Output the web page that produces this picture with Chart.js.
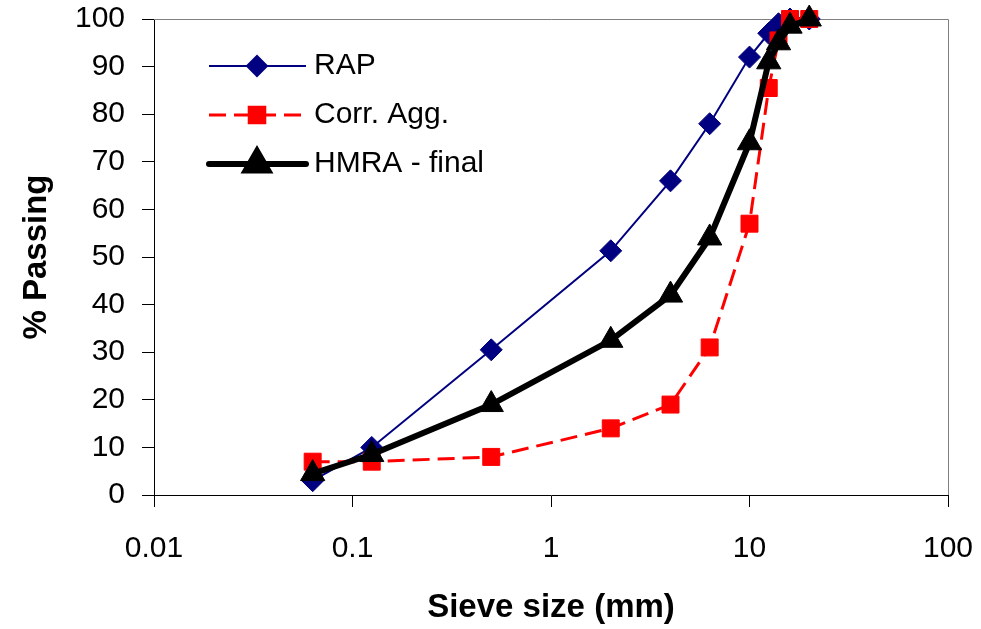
<!DOCTYPE html>
<html>
<head>
<meta charset="utf-8">
<script src="https://cdn.jsdelivr.net/npm/chart.js@4.4.0/dist/chart.umd.min.js"></script>
<style>
  body { margin: 0; background: #fff; }
  #wrap { width: 981px; height: 629px; }
</style>
</head>
<body>
<div id="wrap"><canvas id="gradation" width="981" height="629"></canvas></div>
<script>
// sieve sizes (mm) and % passing
const sieveSizes = [0.063, 0.125, 0.5, 2, 4, 6.3, 10, 12.5, 14, 16, 20];
const rapPassing = [3, 10, 30.5, 51.3, 66, 78, 92, 97, 99, 100, 100];
const corrAggPassing = [7, 7, 8, 14, 19, 31, 57, 85.5, 95.5, 100, 100];
const hmraPassing = [4.5, 8.5, 19, 32.5, 42, 54, 74, 91, 95, 98.5, 100];
const seriesNames = ['RAP', 'Corr. Agg.', 'HMRA - final'];
const xTicks = [0.01, 0.1, 1, 10, 100];
const yMin = 0, yMax = 100, yStep = 10;

const FONT = '"Liberation Sans", Arial, sans-serif';

function toPoints(values) {
    return sieveSizes.map((s, i) => ({ x: s, y: values[i] }));
}

// gray frame on top / right of the plot area (left and bottom are the axes)
const framePlugin = {
    id: 'frame',
    beforeDatasetsDraw(chart) {
        const a = chart.chartArea, ctx = chart.ctx;
        ctx.save();
        ctx.strokeStyle = '#808080';
        ctx.lineWidth = 1;
        ctx.beginPath();
        ctx.moveTo(a.left, a.top + 0.5);
        ctx.lineTo(a.right + 0.5, a.top + 0.5);
        ctx.lineTo(a.right + 0.5, a.bottom);
        ctx.stroke();
        ctx.restore();
    }
};

// legend drawn inside the plot, line sample + marker like excel
const legendPlugin = {
    id: 'insideLegend',
    afterDraw(chart) {
        const ctx = chart.ctx;
        chart.data.datasets.forEach((ds, i) => {
            const y = 66 + i * 49;
            ctx.save();
            ctx.strokeStyle = ds.borderColor;
            ctx.lineWidth = ds.borderWidth;
            ctx.lineCap = ds.borderWidth > 3 ? 'round' : 'butt';
            ctx.setLineDash(ds.borderDash || []);
            ctx.beginPath();
            ctx.moveTo(209, y);
            ctx.lineTo(306, y);
            ctx.stroke();
            ctx.setLineDash([]);
            ctx.fillStyle = ds.pointBackgroundColor;
            ctx.strokeStyle = ds.pointBorderColor;
            Chart.helpers.drawPoint(ctx, {
                pointStyle: ds.pointStyle,
                radius: ds.pointRadius - 1,
                borderWidth: 1,
                rotation: 0
            }, 257, y);
            ctx.fillStyle = '#000';
            ctx.font = '30px ' + FONT;
            ctx.textBaseline = 'middle';
            ctx.fillText(ds.label, 314, y);
            ctx.restore();
        });
    }
};

new Chart(document.getElementById('gradation').getContext('2d'), {
    type: 'line',
    data: {
        datasets: [{
            label: seriesNames[0],
            data: toPoints(rapPassing),
            borderColor: '#000080',
            backgroundColor: '#000080',
            borderWidth: 2,
            pointStyle: 'rectRot',
            pointRadius: 11,
            pointBackgroundColor: '#000080',
            pointBorderColor: '#000080',
            pointBorderWidth: 1,
            order: 3,
            clip: false
        }, {
            label: seriesNames[1],
            data: toPoints(corrAggPassing),
            borderColor: '#ff0000',
            backgroundColor: '#ff0000',
            borderWidth: 3,
            borderDash: [17, 8],
            pointStyle: 'rect',
            pointRadius: 12,
            pointBackgroundColor: '#ff0000',
            pointBorderColor: '#ff0000',
            pointBorderWidth: 1,
            order: 2,
            clip: false
        }, {
            label: seriesNames[2],
            data: toPoints(hmraPassing),
            borderColor: '#000000',
            backgroundColor: '#000000',
            borderWidth: 6,
            pointStyle: 'triangle',
            pointRadius: 14,
            pointBackgroundColor: '#000000',
            pointBorderColor: '#000000',
            pointBorderWidth: 1,
            order: 1,
            clip: false
        }]
    },
    options: {
        responsive: false,
        animation: false,
        layout: { padding: { top: 19, right: 33, left: 0, bottom: 0 } },
        elements: { line: { tension: 0 } },
        plugins: {
            legend: { display: false },
            tooltip: { enabled: false }
        },
        scales: {
            x: {
                type: 'logarithmic',
                min: xTicks[0],
                max: xTicks[xTicks.length - 1],
                afterBuildTicks: s => { s.ticks = xTicks.map(v => ({ value: v })); },
                afterFit: s => { s.height = 134; s.paddingLeft = 0; s.paddingRight = 0; },
                ticks: {
                    autoSkip: false,
                    maxRotation: 0,
                    padding: 24,
                    color: '#000',
                    font: { family: FONT, size: 30 },
                    callback: v => String(v)
                },
                grid: { drawOnChartArea: false, drawTicks: true, tickLength: 12, color: '#000' },
                border: { display: true, color: '#000', width: 1 },
                title: {
                    display: true,
                    text: 'Sieve size (mm)',
                    color: '#000',
                    font: { family: FONT, size: 33, weight: 'bold' },
                    padding: { top: 0, bottom: 1 }
                }
            },
            y: {
                min: yMin,
                max: yMax,
                afterFit: s => { s.width = 154; s.paddingTop = 0; s.paddingBottom = 0; },
                ticks: {
                    stepSize: yStep,
                    padding: 17,
                    color: '#000',
                    font: { family: FONT, size: 30 }
                },
                grid: { drawOnChartArea: false, drawTicks: true, tickLength: 12, color: '#000' },
                border: { display: true, color: '#000', width: 1 },
                title: {
                    display: true,
                    text: '% Passing',
                    color: '#000',
                    font: { family: FONT, size: 33, weight: 'bold' },
                    padding: { top: 17, bottom: 0 }
                }
            }
        }
    },
    plugins: [framePlugin, legendPlugin]
});
</script>
</body>
</html>
